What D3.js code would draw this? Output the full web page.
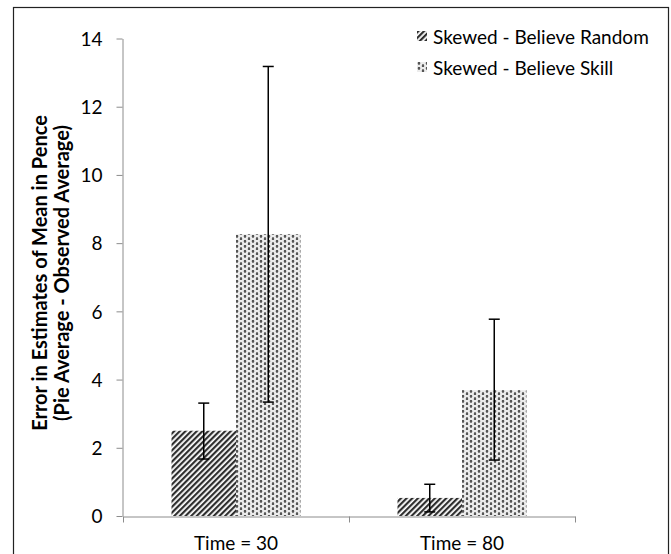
<!DOCTYPE html>
<html>
    <head>
        <script src="https://cdn.jsdelivr.net/npm/d3@7"></script>
        <style>
            body {
                margin: 0;
                background: #fff;
            }
            svg {
                font-family: Lato, "Open Sans", sans-serif;
            }
            .axis path, .axis line {
                stroke: #8c8c8c;
            }
        </style>
    </head>

    <body>
        <svg width="671" height="554"></svg>
    </body>

    <script>
        // chart values
        const categories = ["Time = 30", "Time = 80"];
        const series = ["Skewed - Believe Random", "Skewed - Believe Skill"];
        const means = [[2.5, 8.26], [0.53, 3.69]];
        const errLow = [[1.67, 3.34], [0.12, 1.64]];
        const errHigh = [[3.31, 13.18], [0.93, 5.77]];
        const yTicks = [0, 2, 4, 6, 8, 10, 12, 14];

        const svg = d3.select("svg");

        // patterns
        const defs = svg.append("defs");

        const stripes = defs.append("pattern")
            .attr("id", "stripes")
            .attr("patternUnits", "userSpaceOnUse")
            .attr("width", 4)
            .attr("height", 4)
            .attr("patternTransform", "rotate(45)");
        stripes.append("rect")
            .attr("width", 4).attr("height", 4)
            .attr("fill", "#fff");
        stripes.append("rect")
            .attr("width", 2.2).attr("height", 4)
            .attr("fill", "#2e2e2e");

        const dots = defs.append("pattern")
            .attr("id", "dots")
            .attr("patternUnits", "userSpaceOnUse")
            .attr("width", 8)
            .attr("height", 5);
        dots.append("rect")
            .attr("width", 8).attr("height", 5)
            .attr("fill", "#ececec");
        dots.selectAll("ellipse")
            .data([[2, 1.25], [6, 3.75]])
            .enter().append("ellipse")
            .attr("cx", d => d[0])
            .attr("cy", d => d[1])
            .attr("rx", 1.2)
            .attr("ry", 1.8)
            .attr("fill", "#555");

        const fills = ["url(#stripes)", "url(#dots)"];

        // outer frame
        svg.append("rect")
            .attr("x", 13.5)
            .attr("y", 7.5)
            .attr("width", 655)
            .attr("height", 600)
            .attr("fill", "none")
            .attr("stroke", "#222")
            .attr("stroke-width", 1.2);

        // scales
        const x = d3.scaleBand()
            .domain(categories)
            .range([123, 575]);

        const xSub = d3.scaleBand()
            .domain(series)
            .range([0, x.bandwidth()])
            .paddingInner(0)
            .paddingOuter(0.752);

        const y = d3.scaleLinear()
            .domain([0, 14])
            .range([516, 38.5]);

        // y axis
        svg.append("g")
            .attr("class", "axis")
            .attr("transform", "translate(122.5,0)")
            .call(d3.axisLeft(y).tickValues(yTicks).tickSize(6).tickPadding(14).tickSizeOuter(0))
            .call(g => g.selectAll("text")
                .attr("font-size", 19)
                .attr("font-family", "Lato")
                .attr("fill", "#000")
                .attr("dy", "0.36em"));

        // x axis (labels at centres, ticks at band edges)
        const xAxis = svg.append("g")
            .attr("class", "axis")
            .attr("transform", "translate(0,516.5)")
            .call(d3.axisBottom(x).tickSize(0).tickPadding(20).tickSizeOuter(0))
            .call(g => g.selectAll("text")
                .attr("font-size", 19)
                .attr("font-family", "Lato")
                .attr("fill", "#000"));

        const edges = categories.map(c => x(c)).concat([x.range()[1]]);
        xAxis.selectAll(".edge")
            .data(edges)
            .enter().append("line")
            .attr("class", "edge")
            .attr("x1", d => d + 0.5)
            .attr("x2", d => d + 0.5)
            .attr("y1", 0)
            .attr("y2", 6);

        // bars
        const groups = svg.selectAll(".group")
            .data(categories)
            .enter().append("g")
            .attr("class", "group")
            .attr("transform", d => "translate(" + x(d) + ",0)");

        groups.selectAll("rect")
            .data((d, i) => series.map((s, j) => ({ s: s, j: j, v: means[i][j] })))
            .enter().append("rect")
            .attr("x", d => xSub(d.s))
            .attr("width", xSub.bandwidth())
            .attr("y", d => y(d.v))
            .attr("height", d => y(0) - y(d.v))
            .attr("fill", d => fills[d.j]);

        // error bars
        const err = groups.selectAll(".err")
            .data((d, i) => series.map((s, j) => ({ s: s, lo: errLow[i][j], hi: errHigh[i][j] })))
            .enter().append("g")
            .attr("class", "err")
            .attr("transform", d => "translate(" + (xSub(d.s) + xSub.bandwidth() / 2) + ",0)")
            .attr("stroke", "#000")
            .attr("stroke-width", 1.5);

        err.append("line")
            .attr("y1", d => y(d.lo))
            .attr("y2", d => y(d.hi));
        err.selectAll(".cap")
            .data(d => [d.lo, d.hi])
            .enter().append("line")
            .attr("class", "cap")
            .attr("x1", -5.5)
            .attr("x2", 5.5)
            .attr("y1", d => y(d))
            .attr("y2", d => y(d));

        // legend
        const legend = svg.selectAll(".legend")
            .data(series)
            .enter().append("g")
            .attr("class", "legend")
            .attr("transform", (d, i) => "translate(417," + (31 + i * 31) + ")");
        legend.append("rect")
            .attr("width", 10)
            .attr("height", 10)
            .attr("fill", (d, i) => fills[i]);
        legend.append("text")
            .attr("x", 16)
            .attr("y", 13)
            .attr("font-size", 19)
            .text(d => d);

        // y title
        const title = svg.append("text")
            .attr("transform", "translate(47,273) rotate(-90)")
            .attr("text-anchor", "middle")
            .attr("font-weight", "bold")
            .attr("font-size", 20);
        title.append("tspan")
            .attr("x", 0)
            .attr("y", 0)
            .text("Error in Estimates of Mean in Pence");
        title.append("tspan")
            .attr("x", 0)
            .attr("y", 22)
            .text("(Pie Average - Observed Average)");
    </script>
</html>
